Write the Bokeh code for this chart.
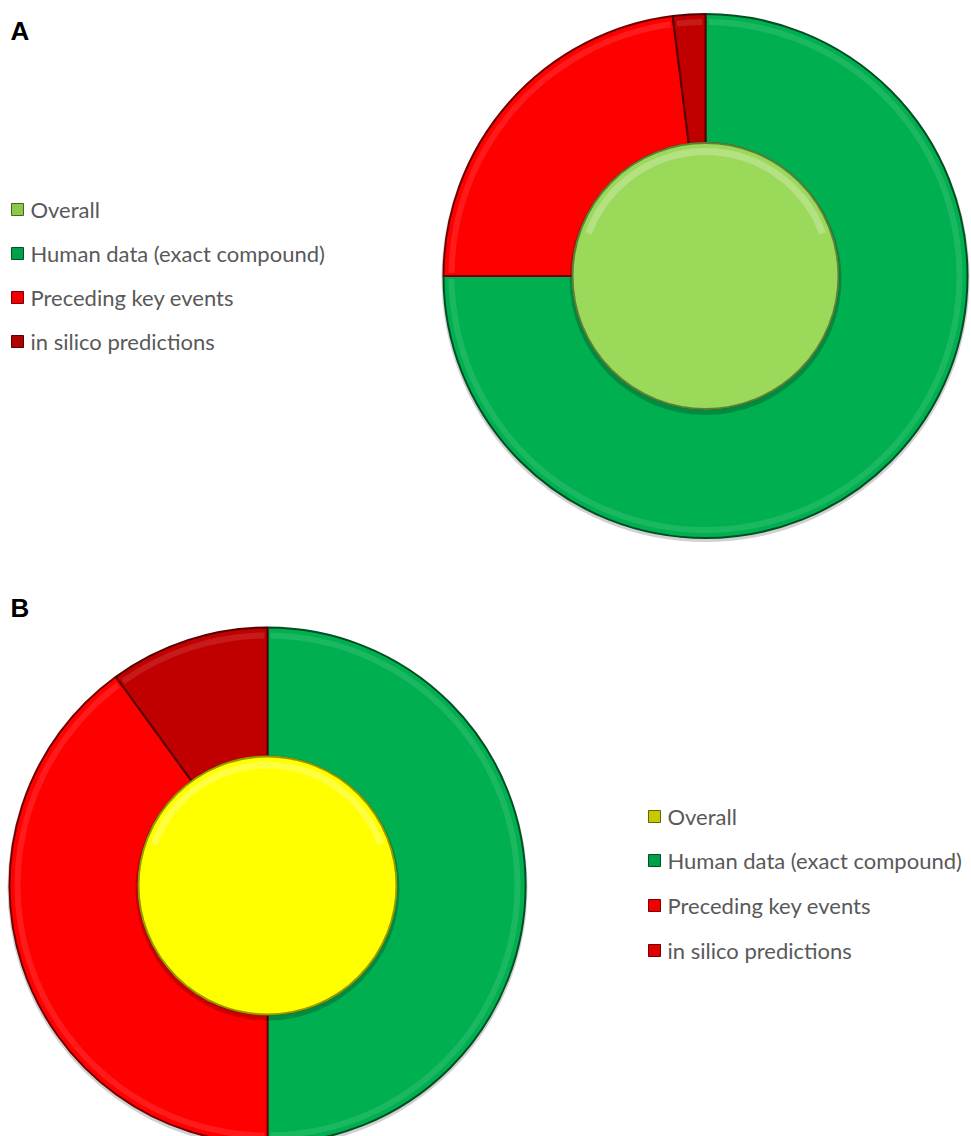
import math
from bokeh.plotting import figure
from bokeh.models import Range1d
from bokeh.core.properties import value
from bokeh.embed import file_html
from bokeh.resources import INLINE

# ---- data ----
categories = ["Overall", "Human data (exact compound)", "Preceding key events", "in silico predictions"]
ring_categories = ["Human data (exact compound)", "Preceding key events", "in silico predictions"]
values_a = [75, 23, 2]
values_b = [50, 40, 10]

ring_colors_a = ["#00B050", "#FF0000", "#C00000"]
ring_colors_b = ["#00B050", "#FF0000", "#C00000"]
overall_color_a = "#9BD95A"
overall_color_b = "#FFFF00"
legend_colors_a = ["#8CC84B", "#00A04A", "#F00000", "#B00000"]
legend_colors_b = ["#C8C800", "#00A04A", "#F00000", "#E00000"]

W, H = 971, 1136

p = figure(width=W, height=H, output_backend="svg", toolbar_location=None,
           x_range=Range1d(0, W), y_range=Range1d(0, H), min_border=0)
p.axis.visible = False
p.grid.visible = False
p.outline_line_color = None
p.background_fill_color = "white"
p.border_fill_color = "white"


def darker(hexc, f=0.6):
    hexc = hexc.lstrip("#")
    r, g, b = (int(hexc[i:i + 2], 16) for i in (0, 2, 4))
    return "#%02x%02x%02x" % (int(r * f), int(g * f), int(b * f))


def lighter(hexc, f=0.45):
    hexc = hexc.lstrip("#")
    r, g, b = (int(hexc[i:i + 2], 16) for i in (0, 2, 4))
    return "#%02x%02x%02x" % (int(r + (255 - r) * f), int(g + (255 - g) * f), int(b + (255 - b) * f))


def donut(cx, cy, r_out, r_in, r_core, vals, colors, core_color):
    total = float(sum(vals))
    starts, ends = [], []
    c = 0.0
    for v in vals:
        starts.append(math.pi / 2 - 2 * math.pi * c / total)
        c += v
        ends.append(math.pi / 2 - 2 * math.pi * c / total)
    n = len(vals)
    # soft shadow
    p.annular_wedge(x=[cx] * n, y=[cy - 2] * n, inner_radius=r_in, outer_radius=r_out + 2,
                    start_angle=starts, end_angle=ends, direction="clock",
                    fill_color="#000000", fill_alpha=0.18, line_color=None)
    # main segments
    p.annular_wedge(x=[cx] * n, y=[cy] * n, inner_radius=r_in, outer_radius=r_out,
                    start_angle=starts, end_angle=ends, direction="clock",
                    fill_color=colors, line_color=[darker(col, 0.45) for col in colors],
                    line_width=2)
    # bevel highlights near the outer edge
    pad = 0.012
    p.annular_wedge(x=[cx] * n, y=[cy] * n, inner_radius=r_out - 11, outer_radius=r_out - 5,
                    start_angle=[s - pad for s in starts], end_angle=[e + pad for e in ends],
                    direction="clock",
                    fill_color=[lighter(col, 0.35) for col in colors], fill_alpha=0.3,
                    line_color=None)
    # core circle
    p.circle(x=[cx], y=[cy - 3], radius=r_core + 3, fill_color="#000000", fill_alpha=0.2,
             line_color=None)
    p.circle(x=[cx], y=[cy], radius=r_core, fill_color=core_color,
             line_color=darker(core_color, 0.6), line_width=2)
    p.annular_wedge(x=[cx], y=[cy], inner_radius=r_core - 12, outer_radius=r_core - 5,
                    start_angle=[math.radians(20)], end_angle=[math.radians(160)],
                    fill_color=lighter(core_color, 0.5), fill_alpha=0.5, line_color=None)


def legend(x0, ys, colors):
    p.rect(x=[x0 + 6] * 4, y=ys, width=12, height=12, fill_color=colors,
           line_color=[darker(c, 0.5) for c in colors], line_width=1)
    p.text(x=[x0 + 19] * 4, y=ys, text=categories, text_font=value("Lato"),
           text_font_size="22px", text_color="#595959", text_baseline="middle",
           text_align="left")


# Chart A
donut(705, H - 275.5, 262, 133, 133, values_a, ring_colors_a, overall_color_a)
legend(11, [H - 209, H - 253, H - 297, H - 341], legend_colors_a)

# Chart B
donut(267, H - 885, 258, 129, 129, values_b, ring_colors_b, overall_color_b)
legend(648, [H - 816, H - 860, H - 905, H - 950], legend_colors_b)

# panel labels
p.text(x=[10, 10], y=[H - 30, H - 607], text=["A", "B"], text_font=value("Liberation Sans"),
       text_font_size="26px", text_font_style="bold", text_color="#000000",
       text_baseline="middle", text_align="left")

open("out.html", "w").write(file_html(p, INLINE))
